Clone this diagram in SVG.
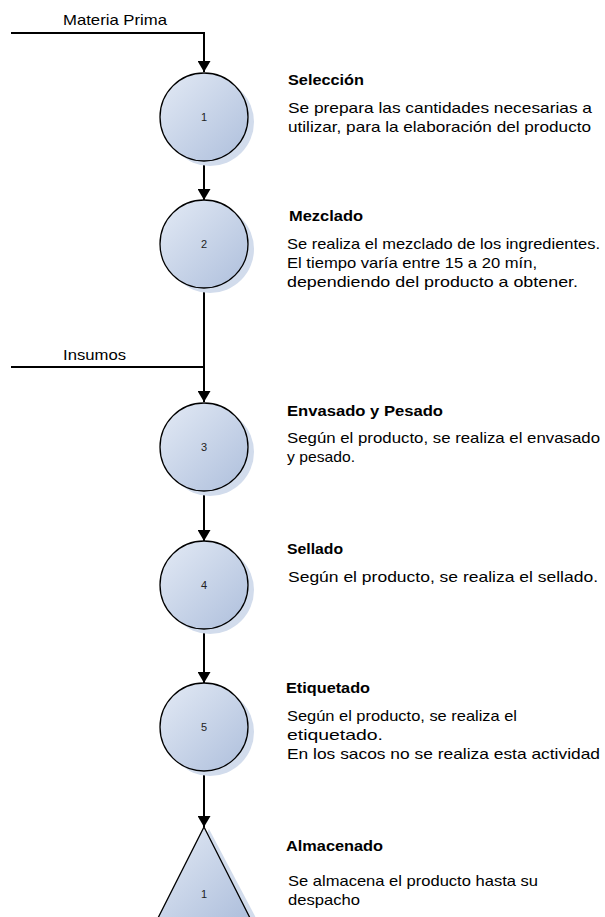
<svg xmlns="http://www.w3.org/2000/svg" width="605" height="917" viewBox="0 0 605 917">
<style>
text{font-family:"Liberation Sans",Arial,sans-serif;fill:#000}
.t{font-size:14px;font-weight:bold}
.b{font-size:15px}
.n{font-size:11px;fill:#222;text-anchor:middle}
.lbl{font-size:14.5px}
.line{stroke:#000;stroke-width:2;fill:none}
.node{stroke:#000;stroke-width:1.3;fill:url(#g)}
.sh{fill:#d2dcec;stroke:none}
</style>
<defs>
<linearGradient id="g" x1="0" y1="0" x2="1" y2="1">
<stop offset="0" stop-color="#e3eaf5"/>
<stop offset="1" stop-color="#aebfdc"/>
</linearGradient>
<marker id="a" viewBox="0 0 11 13" refX="11" refY="6.5" markerWidth="11" markerHeight="13" markerUnits="userSpaceOnUse" orient="auto">
<path d="M0,0 L11,6.5 L0,13 Z" fill="#000"/>
</marker>
</defs>
<g id="connectors">
<path class="line" d="M11,33 H204 V72" marker-end="url(#a)"/>
<path class="line" d="M204,161 V200" marker-end="url(#a)"/>
<path class="line" d="M204,289 V402" marker-end="url(#a)"/>
<path class="line" d="M11,367 H204"/>
<path class="line" d="M204,491 V541" marker-end="url(#a)"/>
<path class="line" d="M204,629 V683" marker-end="url(#a)"/>
<path class="line" d="M204,771 V827" marker-end="url(#a)"/>
<text class="lbl" x="63" y="25" textLength="104" lengthAdjust="spacingAndGlyphs">Materia Prima</text>
<text class="lbl" x="63" y="360" textLength="63" lengthAdjust="spacingAndGlyphs">Insumos</text>
</g>
<g id="n1">
<circle class="sh" cx="210" cy="122" r="44"/>
<circle class="node" cx="204" cy="117" r="44"/>
<text class="n" x="204" y="121">1</text>
<text class="t" x="288" y="85" textLength="76" lengthAdjust="spacingAndGlyphs">Selección</text>
<text class="b" x="288" y="113" textLength="304" lengthAdjust="spacingAndGlyphs">Se prepara las cantidades necesarias a</text>
<text class="b" x="288" y="132" textLength="303" lengthAdjust="spacingAndGlyphs">utilizar, para la elaboración del producto</text>
</g>
<g id="n2">
<circle class="sh" cx="210" cy="249" r="44"/>
<circle class="node" cx="204" cy="244" r="44"/>
<text class="n" x="204" y="248">2</text>
<text class="t" x="289" y="221" textLength="74" lengthAdjust="spacingAndGlyphs">Mezclado</text>
<text class="b" x="287" y="249" textLength="313" lengthAdjust="spacingAndGlyphs">Se realiza el mezclado de los ingredientes.</text>
<text class="b" x="287" y="268" textLength="250" lengthAdjust="spacingAndGlyphs">El tiempo varía entre 15 a 20 mín,</text>
<text class="b" x="287" y="287" textLength="291" lengthAdjust="spacingAndGlyphs">dependiendo del producto a obtener.</text>
</g>
<g id="n3">
<circle class="sh" cx="210" cy="452" r="44"/>
<circle class="node" cx="204" cy="447" r="44"/>
<text class="n" x="204" y="451">3</text>
<text class="t" x="287" y="416" textLength="156" lengthAdjust="spacingAndGlyphs">Envasado y Pesado</text>
<text class="b" x="287" y="443" textLength="313" lengthAdjust="spacingAndGlyphs">Según el producto, se realiza el envasado</text>
<text class="b" x="287" y="462" textLength="68" lengthAdjust="spacingAndGlyphs">y pesado.</text>
</g>
<g id="n4">
<circle class="sh" cx="210" cy="590" r="44"/>
<circle class="node" cx="204" cy="585" r="44"/>
<text class="n" x="204" y="589">4</text>
<text class="t" x="287" y="554" textLength="56" lengthAdjust="spacingAndGlyphs">Sellado</text>
<text class="b" x="288" y="582" textLength="310" lengthAdjust="spacingAndGlyphs">Según el producto, se realiza el sellado.</text>
</g>
<g id="n5">
<circle class="sh" cx="210" cy="732" r="44"/>
<circle class="node" cx="204" cy="727" r="44"/>
<text class="n" x="204" y="731">5</text>
<text class="t" x="286" y="693" textLength="84" lengthAdjust="spacingAndGlyphs">Etiquetado</text>
<text class="b" x="287" y="721" textLength="230" lengthAdjust="spacingAndGlyphs">Según el producto, se realiza el</text>
<text class="b" x="287" y="740" textLength="96" lengthAdjust="spacingAndGlyphs">etiquetado.</text>
<text class="b" x="287" y="759" textLength="313" lengthAdjust="spacingAndGlyphs">En los sacos no se realiza esta actividad</text>
</g>
<g id="s1">
<polygon class="sh" points="209,829 256,918 163,918"/>
<polygon class="node" points="204,827 250,918 158,918"/>
<text class="n" x="204" y="898">1</text>
<text class="t" x="286" y="851" textLength="97" lengthAdjust="spacingAndGlyphs">Almacenado</text>
<text class="b" x="288" y="886" textLength="250" lengthAdjust="spacingAndGlyphs">Se almacena el producto hasta su</text>
<text class="b" x="288" y="905" textLength="72" lengthAdjust="spacingAndGlyphs">despacho</text>
</g>
</svg>
